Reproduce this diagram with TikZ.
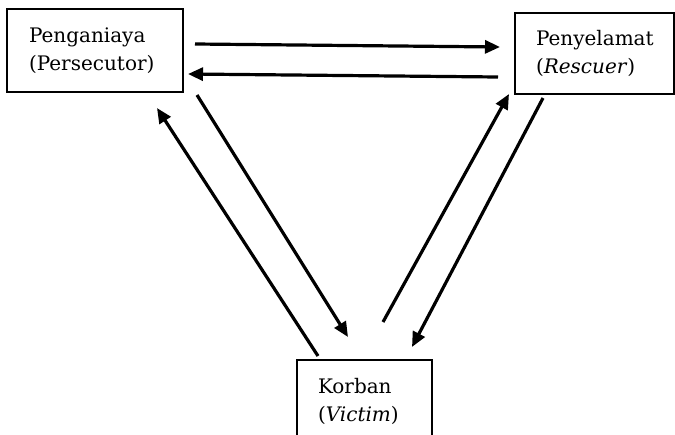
\documentclass[tikz,border=0pt]{standalone}
\usepackage{fontspec}
\setmainfont{DejaVu Serif}
\usetikzlibrary{arrows.meta}
\begin{document}
\begin{tikzpicture}[x=1pt,y=-1pt,
  role/.style={draw=black, line width=2pt, rectangle, align=left,
    font=\fontsize{20}{28}\selectfont, inner ysep=0pt},
  arr/.style={line width=3.2pt, -{Triangle[length=15pt,width=13pt]}}]
\useasboundingbox (0,0) rectangle (675,434);
\clip (0,0) rectangle (675,434);
% boxes
\node[role, minimum width=176pt, minimum height=83pt, text width=132pt, inner xsep=22pt]
  (pers) at (95,50.5) {Penganiaya\\(Persecutor)};
\node[role, minimum width=159pt, minimum height=81pt, text width=117pt, inner xsep=21pt]
  (resc) at (594.5,53.5) {Penyelamat\\(\textit{Rescuer})};
\node[role, minimum width=135pt, minimum height=83pt, text width=93pt, inner xsep=21pt]
  (vict) at (364.5,401.5) {Korban\\(\textit{Victim})};
% connector end points
\coordinate (prS) at (195,44);  \coordinate (prE) at (500,47);
\coordinate (rpS) at (498,77);  \coordinate (rpE) at (188,74);
\coordinate (vpS) at (318,356); \coordinate (vpE) at (157,108);
\coordinate (pvS) at (197,95);  \coordinate (pvE) at (348,337);
\coordinate (vrS) at (383,322); \coordinate (vrE) at (509,94);
\coordinate (rvS) at (543,98);  \coordinate (rvE) at (412,347);
% connectors
\draw[arr] (prS) -- (prE);
\draw[arr] (rpS) -- (rpE);
\draw[arr] (vpS) -- (vpE);
\draw[arr] (pvS) -- (pvE);
\draw[arr] (vrS) -- (vrE);
\draw[arr] (rvS) -- (rvE);
\end{tikzpicture}
\end{document}
